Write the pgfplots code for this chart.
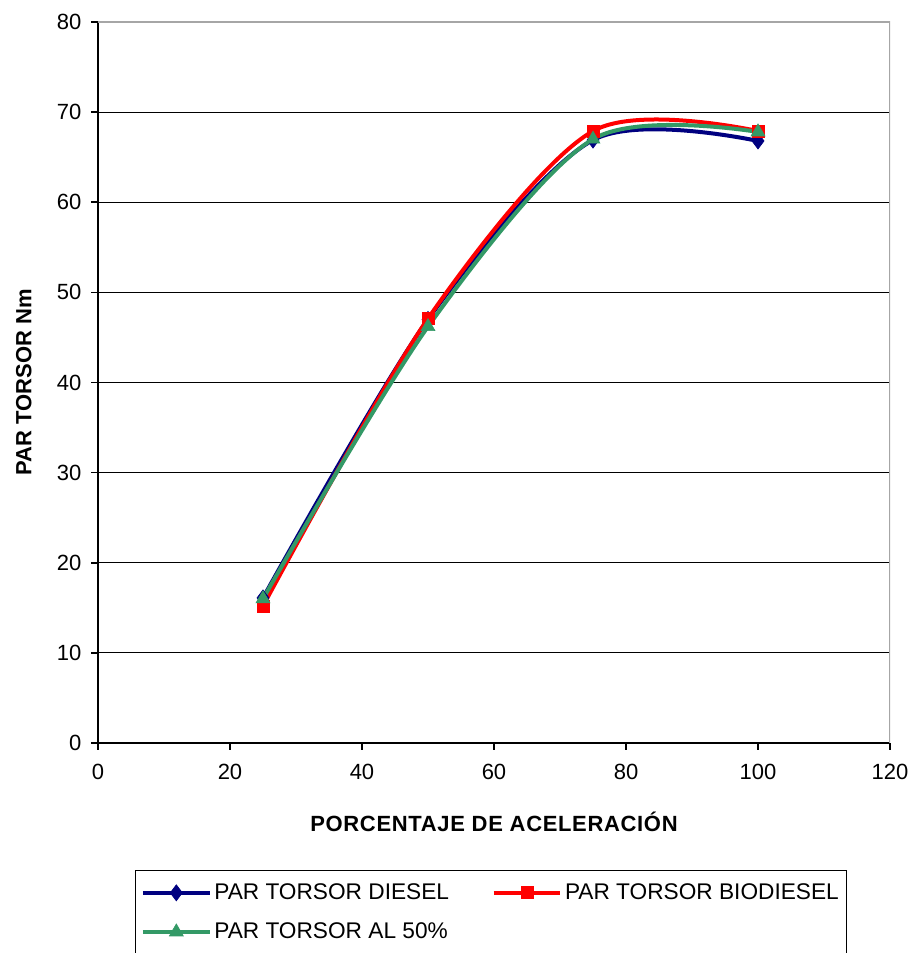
\documentclass[border=0pt]{standalone}
\usepackage{fontspec}
\setmainfont{Liberation Sans}
\usepackage{pgfplots}
\pgfplotsset{compat=1.18}
\definecolor{dieselc}{RGB}{0,0,128}
\definecolor{bioc}{RGB}{255,0,0}
\definecolor{mixc}{RGB}{51,153,102}
\begin{document}
\begin{tikzpicture}
\begin{axis}[
  scale only axis,
  width=594pt, height=540.75pt,
  xmin=0, xmax=120, ymin=0, ymax=80,
  xtick={0,20,...,120}, ytick={0,10,...,80},
  axis lines*=left,
  axis line style={line width=1.6pt, black},
  tick style={line width=1.2pt, black},
  tick align=outside,
  major tick length=5pt,
  ymajorgrids,
  grid style={line width=0.8pt, black},
  /pgf/number format/assume math mode=true,
  ticklabel style={font=\fontsize{16.5}{19}\selectfont},
  xticklabel style={yshift=-7pt},
  yticklabel style={xshift=-4pt},
  xlabel={\bfseries\addfontfeature{LetterSpace=3}PORCENTAJE DE ACELERACIÓN},
  ylabel={\bfseries PAR TORSOR Nm},
  label style={font=\fontsize{16.5}{19}\selectfont},
  xlabel style={yshift=-18pt},
  ylabel style={yshift=12pt},
  legend columns=2,
  legend cell align=left,
  legend style={at={(rel axis cs:0.0467,-0.176)}, anchor=north west,
    draw=black, line width=1pt, font=\fontsize{17}{20}\selectfont,
    inner xsep=4pt, inner ysep=8pt, row sep=12pt,
    /tikz/every even column/.append style={column sep=30pt}},
  legend image code/.code={\draw[mark repeat=2,mark phase=2] plot coordinates {(0pt,0pt)(25pt,0pt)(50pt,0pt)};},
  every axis plot/.append style={line width=3pt, smooth},
]
\draw[gray!70, line width=1.2pt] (rel axis cs:0,1) -- (rel axis cs:1,1) -- (rel axis cs:1,0);
\addplot[color=dieselc, mark=diamond*, mark size=6pt, mark options={line width=0.5pt}] coordinates {(25,16.1) (50,47) (75,66.9) (100,66.8)};
\addlegendentry{PAR TORSOR DIESEL}
\addplot[color=bioc, mark=square*, mark size=4.5pt, mark options={line width=0.5pt}] coordinates {(25,15.2) (50,47.1) (75,67.9) (100,67.9)};
\addlegendentry{PAR TORSOR BIODIESEL}
\addplot[color=mixc, mark=triangle*, mark size=6pt, mark options={line width=0.5pt}] coordinates {(25,16.0) (50,46.2) (75,67.0) (100,67.8)};
\addlegendentry{PAR TORSOR AL 50\%}
\end{axis}
\pgfresetboundingbox
\useasboundingbox (-73.5pt,-157.5pt) rectangle (612.75pt,557.25pt);
\end{tikzpicture}
\end{document}
